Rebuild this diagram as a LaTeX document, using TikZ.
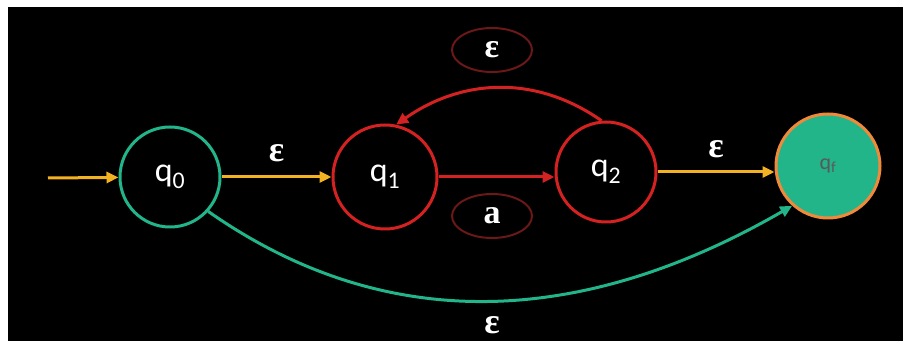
\documentclass[tikz,border=0pt]{standalone}
\usepackage{fontspec}
\setmainfont{Carlito}
\newfontfamily\epsfont{Liberation Serif}
\usetikzlibrary{arrows.meta,shapes.geometric}
\definecolor{tgreen}{HTML}{22B58A}
\definecolor{tyellow}{HTML}{F2B222}
\definecolor{tred}{HTML}{D42222}
\definecolor{tdred}{HTML}{6A1818}
\definecolor{torange}{HTML}{F08A3A}
\tikzset{
  state/.style={circle,minimum size=100pt,inner sep=0pt,line width=3pt,font=\fontsize{34}{34}\selectfont,text=white},
  epslabel/.style={text=white,font=\epsfont\bfseries\fontsize{36}{36}\selectfont,inner sep=0pt},
  lab/.style={ellipse,draw=tdred,line width=2pt,minimum width=80pt,minimum height=44pt,text=white,font=\epsfont\bfseries\fontsize{34}{34}\selectfont},
  tr/.style={line width=3pt,-{Triangle[length=12pt,width=11pt]}},
}
\begin{document}
\begin{tikzpicture}[x=1pt,y=-1pt]
\useasboundingbox (0,0) rectangle (911,355);
\fill[white] (0,0) rectangle (911,355);
\fill[black] (8,7) rectangle (903,341);
\node[state,draw=tgreen] (q0) at (170,177) {q$_{\mathrm{0}}$};
\node[state,draw=tred,minimum size=104pt] (q1) at (385,177) {q$_{\mathrm{1}}$};
\node[state,draw=tred] (q2) at (606,172) {q$_{\mathrm{2}}$};
\node[state,draw=torange,fill=tgreen,minimum size=104pt,text=black!65,font=\fontsize{22}{22}\selectfont] (qf) at (828,166) {q$_{\mathrm{f}}$};
\coordinate (start) at (48,178);
\draw[tr,draw=tyellow,color=tyellow] (start) -- (q0);
\draw[tr,draw=tyellow,color=tyellow] (q0) -- (q1) node[epslabel,midway,above=14pt] {ε};
\draw[tr,draw=tred,color=tred] (q1.east) -- (q2.west |- q1.east);
\draw[tr,draw=tred,color=tred] (q2.95) to[out=145,in=35] (q1.78);
\draw[tr,draw=tyellow,color=tyellow] (q2.east) -- (qf.west |- q2.east) node[epslabel,midway,above=13pt] {ε};
\draw[tr,draw=tgreen,color=tgreen] (q0.-42) to[out=-35,in=-150] (qf.-132);
\node[lab] (la) at (492,216) {a};
\node[lab] (le) at (492,50) {ε};
\node[epslabel] (lb) at (492,325) {ε};
\end{tikzpicture}
\end{document}
